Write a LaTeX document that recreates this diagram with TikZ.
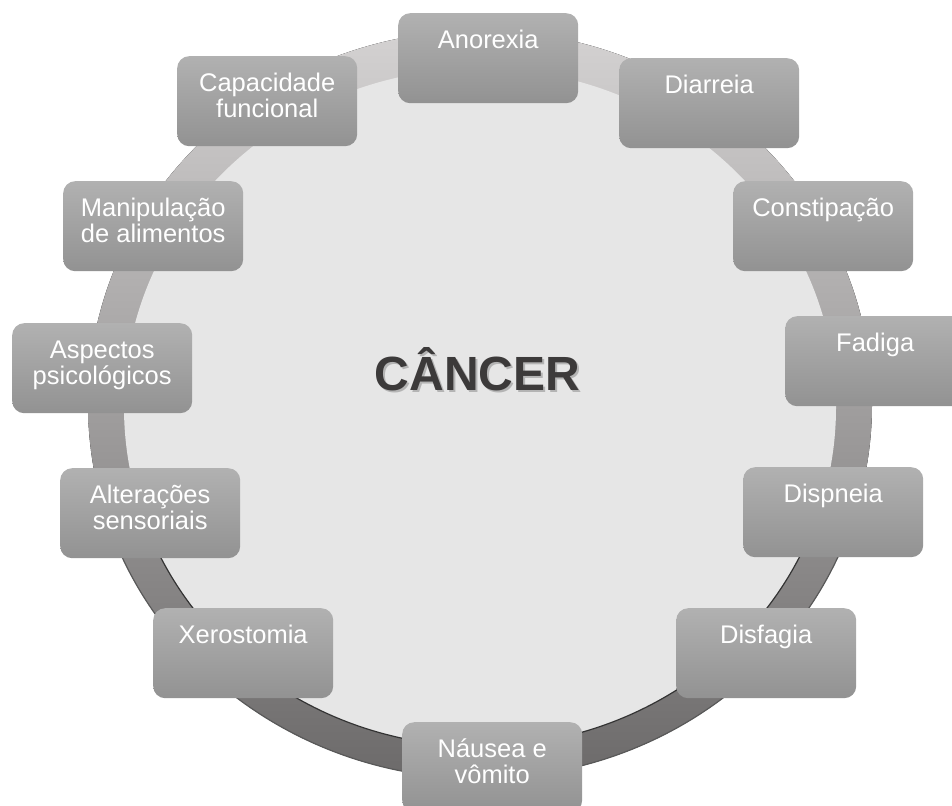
\documentclass[tikz,border=0pt]{standalone}
\usepackage{fontspec}
\setmainfont{Liberation Sans}
\definecolor{boxtop}{HTML}{B1B1B1}
\definecolor{boxbot}{HTML}{929292}
\definecolor{ringtop}{HTML}{D4D2D2}
\definecolor{ringbot}{HTML}{6C6A6A}
\definecolor{innerc}{HTML}{E6E6E6}
\definecolor{titlec}{HTML}{3C3A3A}
\definecolor{shadowc}{HTML}{B4B4B4}
\begin{document}
\begin{tikzpicture}[x=1pt,y=1pt,
  box/.style={rectangle, rounded corners=12pt, minimum width=180pt, minimum height=90pt,
    top color=boxtop, bottom color=boxbot, draw=none, inner sep=0pt, anchor=north west},
  lbl/.style={anchor=north, inner sep=0pt, align=center, text=white,
    font=\fontsize{25.5}{26.5}\selectfont},
  ringline/.style={draw=black!80, line width=1.2pt}]
\useasboundingbox (0,0) rectangle (952,-805);
\clip (0,0) rectangle (952,-805);
% ring
\fill[top color=ringtop, bottom color=ringbot] (480,-404.5) ellipse [x radius=392pt, y radius=374pt];
\draw[ringline, draw=black!65] ([shift={(195:392pt and 374pt)}]480,-404.5)
   arc[start angle=195, end angle=345, x radius=392pt, y radius=374pt];
\fill[innerc] (480,-407.4) ellipse [x radius=356pt, y radius=339pt];
\draw[ringline] ([shift={(200:356pt and 339pt)}]480,-407.4)
   arc[start angle=200, end angle=340, x radius=356pt, y radius=339pt];
% title with soft shadow
\node[anchor=base, text=titlec, font=\fontsize{48}{50}\selectfont\bfseries] (title) at (477.5,-390)
  {\rlap{\kern2pt\raisebox{-2pt}{\textcolor{shadowc}{CÂNCER}}}CÂNCER};
% boxes
\node[box] (b1) at (398,-13) {};
\node[lbl] (t1) at ([yshift=-16pt]b1.north) {\rule{0pt}{19pt}Anorexia};
\node[box] (b2) at (619,-58) {};
\node[lbl] (t2) at ([yshift=-16pt]b2.north) {\rule{0pt}{19pt}Diarreia};
\node[box] (b3) at (733,-181) {};
\node[lbl] (t3) at ([yshift=-16pt]b3.north) {\rule{0pt}{19pt}Constipação};
\node[box] (b4) at (785,-316) {};
\node[lbl] (t4) at ([yshift=-16pt]b4.north) {\rule{0pt}{19pt}Fadiga};
\node[box] (b5) at (743,-467) {};
\node[lbl] (t5) at ([yshift=-16pt]b5.north) {\rule{0pt}{19pt}Dispneia};
\node[box] (b6) at (676,-608) {};
\node[lbl] (t6) at ([yshift=-16pt]b6.north) {\rule{0pt}{19pt}Disfagia};
\node[box] (b7) at (402,-722) {};
\node[lbl] (t7) at ([yshift=-16pt]b7.north) {\rule{0pt}{19pt}Náusea e\\vômito};
\node[box] (b8) at (153,-608) {};
\node[lbl] (t8) at ([yshift=-16pt]b8.north) {\rule{0pt}{19pt}Xerostomia};
\node[box] (b9) at (60,-468) {};
\node[lbl] (t9) at ([yshift=-16pt]b9.north) {\rule{0pt}{19pt}Alterações\\sensoriais};
\node[box] (b10) at (12,-323) {};
\node[lbl] (t10) at ([yshift=-16pt]b10.north) {\rule{0pt}{19pt}Aspectos\\psicológicos};
\node[box] (b11) at (63,-181) {};
\node[lbl] (t11) at ([yshift=-16pt]b11.north) {\rule{0pt}{19pt}Manipulação\\de alimentos};
\node[box] (b12) at (177,-56) {};
\node[lbl] (t12) at ([yshift=-16pt]b12.north) {\rule{0pt}{19pt}Capacidade\\funcional};
\end{tikzpicture}
\end{document}
